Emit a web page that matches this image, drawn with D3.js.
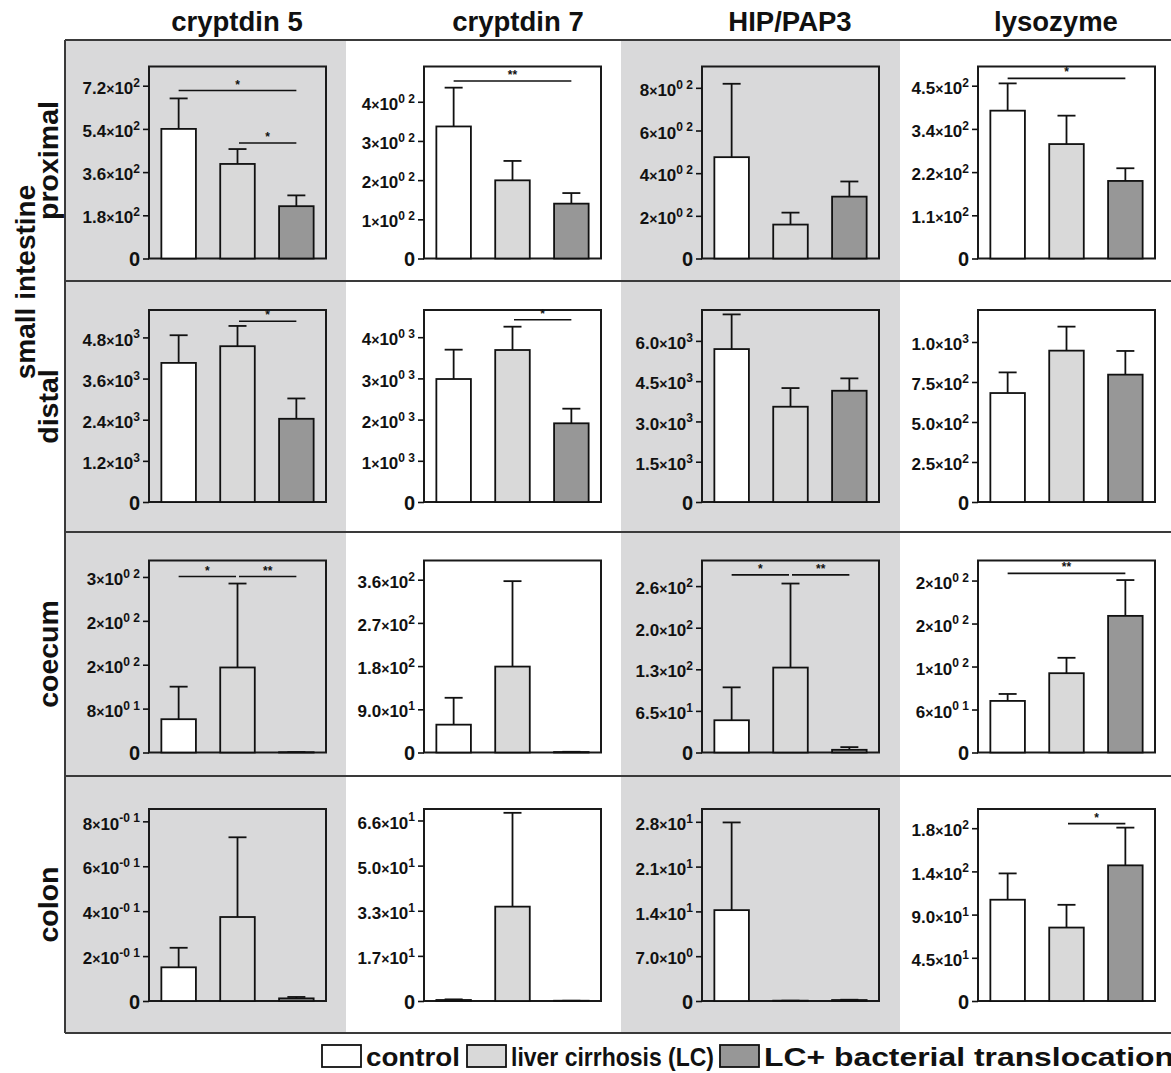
<!DOCTYPE html>
<html><head><meta charset="utf-8">
<script src="https://cdn.jsdelivr.net/npm/d3@7"></script>
<style>
body{margin:0;background:#fff}
svg{display:block}
text{font-family:"Liberation Sans",Arial,Helvetica,sans-serif;font-weight:bold;fill:#111}
</style>
</head><body>
<svg id="chart" width="1171" height="1073"></svg>
<script>
// ---------------- DATA ----------------
const columns = ["cryptdin 5", "cryptdin 7", "HIP/PAP3", "lysozyme"];
const rowLabels = ["proximal", "distal", "coecum", "colon"];
const groups = ["control", "liver cirrhosis (LC)", "LC+ bacterial translocation"];

// means per panel [row][col] -> [control, LC, LC+BT]
const means = [
  [[540, 394, 218], [337, 199.5, 140], [475, 159, 290], [385, 298, 202]],
  [[4057, 4544, 2427], [2985, 3689, 1910], [5695, 3548, 4143], [681, 946, 796]],
  [[60.7, 155, 0.5], [58, 179, 1], [50.4, 132.7, 4.2], [72, 110.7, 190.7]],
  [[0.150, 0.374, 0.0117], [0.37, 34.5, 0.1], [14.2, 0.05, 0.15], [105.5, 76.5, 141.3]]
];
// upper end of error bar (mean + SEM)
const errTops = [
  [[667, 456, 263], [436, 249, 167], [819, 215, 361], [456, 372, 235]],
  [[4864, 5135, 3020], [3697, 4255, 2265], [6986, 4243, 4604], [810, 1096, 944]],
  [[120, 308, 0.8], [114, 357, 1.5], [101.8, 264, 8.4], [81.7, 132.2, 240.7]],
  [[0.237, 0.729, 0.018], [0.6, 68.8, 0.1], [27.9, 0.05, 0.2], [132.9, 100.2, 180.6]]
];
// y axis maxima
const yMax = [
  [800, 490, 900, 500],
  [5600, 4660, 7150, 1200],
  [350, 400, 300, 268],
  [0.855, 70.2, 30, 200]
];
// tick values
const tickValues = [
  [[180, 360, 540, 720], [100, 200, 300, 400], [200, 400, 600, 800], [112.5, 225, 337.5, 450]],
  [[1200, 2400, 3600, 4800], [1000, 2000, 3000, 4000], [1500, 3000, 4500, 6000], [250, 500, 750, 1000]],
  [[80, 160, 240, 320], [90, 180, 270, 360], [65, 130, 195, 260], [60, 120, 180, 240]],
  [[0.2, 0.4, 0.6, 0.8], [16.5, 33, 49.5, 66], [7, 14, 21, 28], [45, 90, 135, 180]]
];
// tick labels: "mantissa|exponent"
const tickLabels = [
  [["1.8|2", "3.6|2", "5.4|2", "7.2|2"], ["1|0 2", "2|0 2", "3|0 2", "4|0 2"], ["2|0 2", "4|0 2", "6|0 2", "8|0 2"], ["1.1|2", "2.2|2", "3.4|2", "4.5|2"]],
  [["1.2|3", "2.4|3", "3.6|3", "4.8|3"], ["1|0 3", "2|0 3", "3|0 3", "4|0 3"], ["1.5|3", "3.0|3", "4.5|3", "6.0|3"], ["2.5|2", "5.0|2", "7.5|2", "1.0|3"]],
  [["8|0 1", "2|0 2", "2|0 2", "3|0 2"], ["9.0|1", "1.8|2", "2.7|2", "3.6|2"], ["6.5|1", "1.3|2", "2.0|2", "2.6|2"], ["6|0 1", "1|0 2", "2|0 2", "2|0 2"]],
  [["2|-0 1", "4|-0 1", "6|-0 1", "8|-0 1"], ["1.7|1", "3.3|1", "5.0|1", "6.6|1"], ["7.0|0", "1.4|1", "2.1|1", "2.8|1"], ["4.5|1", "9.0|1", "1.4|2", "1.8|2"]]
];
// significance brackets: row, col, from group, to group, y value, label
const sigRow = [0, 0, 0, 0, 1, 1, 2, 2, 2, 2, 2, 3];
const sigCol = [0, 0, 1, 3, 0, 1, 0, 0, 2, 2, 3, 3];
const sigFrom = [0, 1, 0, 0, 1, 1, 0, 1, 0, 1, 0, 1];
const sigTo = [2, 2, 2, 2, 2, 2, 1, 2, 1, 2, 2, 2];
const sigY = [700, 481, 453, 469, 5272, 4425, 320.7, 320.7, 277.5, 277.5, 250, 184.8];
const sigText = ["*", "*", "**", "*", "*", "*", "*", "**", "*", "**", "**", "*"];

// ---------------- LAYOUT ----------------
const colBounds = [65, 346, 621, 900, 1185];
const rowBounds = [40, 281, 532, 776, 1033];
const boxLeft = [149, 424, 702, 978];
const boxTop = [66.5, 310, 560.5, 809];
const boxW = 177, boxH = 192;
const headerX = [237, 518, 790, 1056];
const fills = ["#ffffff", "#d9d9d9", "#979797"];
const bgGray = "#d9d9da";

const svg = d3.select("#chart");

// gray column backgrounds
[0, 2].forEach(c => {
  svg.append("rect").attr("x", colBounds[c]).attr("y", rowBounds[0])
    .attr("width", colBounds[c + 1] - colBounds[c]).attr("height", rowBounds[4] - rowBounds[0])
    .attr("fill", bgGray);
});
// frame lines
rowBounds.forEach(y => {
  svg.append("line").attr("x1", colBounds[0]).attr("x2", 1180).attr("y1", y).attr("y2", y)
    .attr("stroke", "#3a3a3a").attr("stroke-width", 2);
});
svg.append("line").attr("x1", colBounds[0]).attr("x2", colBounds[0])
  .attr("y1", rowBounds[0]).attr("y2", rowBounds[4]).attr("stroke", "#3a3a3a").attr("stroke-width", 2);

// headers
columns.forEach((c, i) => {
  svg.append("text").attr("x", headerX[i]).attr("y", 31).attr("text-anchor", "middle")
    .attr("font-size", 27.5).text(c);
});
// row labels
svg.append("text").attr("transform", "translate(35,282) rotate(-90)").attr("text-anchor", "middle")
  .attr("font-size", 28).text("small intestine");
rowLabels.forEach((r, i) => {
  const cy = (rowBounds[i] + rowBounds[i + 1]) / 2;
  svg.append("text").attr("transform", `translate(58,${cy}) rotate(-90)`).attr("text-anchor", "middle")
    .attr("font-size", 28.5).text(r);
});

const x = d3.scaleBand().domain(groups).range([0, boxW]).paddingInner(0.413).paddingOuter(0.21);

for (let r = 0; r < 4; r++) {
  for (let c = 0; c < 4; c++) {
    const g = svg.append("g").attr("transform", `translate(${boxLeft[c]},${boxTop[r]})`);
    const y = d3.scaleLinear().domain([0, yMax[r][c]]).range([boxH, 0]);
    // plot box
    g.append("rect").attr("x", 0).attr("y", 0).attr("width", boxW).attr("height", boxH)
      .attr("fill", "none").attr("stroke", "#1a1a1a").attr("stroke-width", 2);
    // axis
    const labels = tickLabels[r][c];
    const ax = d3.axisLeft(y).tickValues([0].concat(tickValues[r][c])).tickSize(6).tickPadding(3)
      .tickFormat(() => "");
    const axg = g.append("g").call(ax);
    axg.select(".domain").remove();
    axg.selectAll(".tick line").attr("stroke", "#111").attr("stroke-width", 1.6);
    axg.selectAll(".tick text").each(function (d, i) {
      const t = d3.select(this).attr("fill", "#111").attr("font-family", null).attr("font-size", null);
      t.text(null);
      if (i === 0) {
        t.attr("font-size", 20).attr("dy", "0.36em").attr("x", -9).text("0");
      } else {
        const [m, e] = labels[i - 1].split("|");
        t.attr("font-size", 17).attr("dy", "0.45em");
        t.append("tspan").text(m);
        t.append("tspan").attr("font-size", 14).text("×");
        t.append("tspan").text("10");
        t.append("tspan").attr("font-size", 12).attr("dy", "-0.6em").text(e);
      }
    });
    // bars
    const data = groups.map((k, i) => ({ k, i, m: means[r][c][i], e: errTops[r][c][i] }));
    g.selectAll("rect.bar").data(data).enter().append("rect").attr("class", "bar")
      .attr("x", d => x(d.k)).attr("width", x.bandwidth())
      .attr("y", d => y(d.m)).attr("height", d => boxH - y(d.m))
      .attr("fill", d => fills[d.i]).attr("stroke", "#111").attr("stroke-width", 1.8);
    // error bars
    const cx = d => x(d.k) + x.bandwidth() / 2;
    g.selectAll("line.err").data(data).enter().append("line").attr("class", "err")
      .attr("x1", cx).attr("x2", cx).attr("y1", d => y(d.m)).attr("y2", d => y(d.e))
      .attr("stroke", "#111").attr("stroke-width", 1.8);
    g.selectAll("line.cap").data(data).enter().append("line").attr("class", "cap")
      .attr("x1", d => cx(d) - 9).attr("x2", d => cx(d) + 9).attr("y1", d => y(d.e)).attr("y2", d => y(d.e))
      .attr("stroke", "#111").attr("stroke-width", 1.8);
    // significance
    sigRow.forEach((sr, s) => {
      if (sr !== r || sigCol[s] !== c) return;
      const gx0 = x(groups[sigFrom[s]]) + x.bandwidth() / 2 + (sigFrom[s] === 1 ? 1.5 : 0);
      const gx1 = x(groups[sigTo[s]]) + x.bandwidth() / 2 - (sigTo[s] === 1 ? 1.5 : 0);
      const yy = y(sigY[s]);
      g.append("line").attr("x1", gx0).attr("x2", gx1).attr("y1", yy).attr("y2", yy)
        .attr("stroke", "#111").attr("stroke-width", 1.6);
      g.append("text").attr("x", (gx0 + gx1) / 2).attr("y", yy - 2).attr("text-anchor", "middle")
        .attr("font-size", 12).attr("font-weight", "normal").text(sigText[s]);
    });
  }
}

// legend
const legX = [322, 467, 720];
const legTextLen = [94, 203, 410];
groups.forEach((k, i) => {
  svg.append("rect").attr("x", legX[i]).attr("y", 1045).attr("width", 39).attr("height", 22)
    .attr("fill", fills[i]).attr("stroke", "#111").attr("stroke-width", 1.8);
  svg.append("text").attr("x", legX[i] + 44).attr("y", 1066).attr("font-size", 25)
    .attr("textLength", legTextLen[i]).attr("lengthAdjust", "spacingAndGlyphs").text(k);
});
</script>
</body></html>
